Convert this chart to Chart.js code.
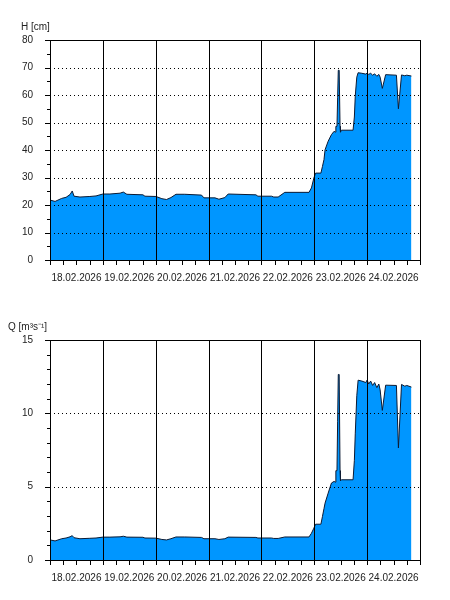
<!DOCTYPE html>
<html>
<head>
<meta charset="utf-8">
<script src="https://cdn.jsdelivr.net/npm/chart.js@4.4.1/dist/chart.umd.min.js"></script>
<style>
    body { margin: 0; background: #fff; }
    .box { width: 450px; height: 300px; }
</style>
</head>
<body>
<div class="box"><canvas id="levelChart" width="450" height="300"></canvas></div>
<div class="box"><canvas id="flowChart" width="450" height="300"></canvas></div>
<script>
// Hours since 18.02.2026 00:00 (shared by both series)
const hours = [
    0, 2.3, 5.3, 7.3, 9.1, 10.1, 10.9, 13.6, 18.1, 20.9,
    24, 27.2, 31.8, 33.3, 34.9, 42.2, 43.1, 48.1, 50.8, 52.9,
    54.9, 57.2, 61.2, 68.8, 69.9, 74.9, 76.7, 79.4, 80.9, 93.5,
    94.4, 100.6, 101.6, 103.6, 106.6, 117.6, 118.7, 119.8, 120.6, 123.0,
    123.7, 124.4, 124.9, 126.3, 127.8, 129.0, 129.5, 129.8, 130.3, 130.6,
    130.9, 131.3, 131.7, 131.9, 132.3, 137.6, 138.2, 138.6, 139.3, 139.9,
    141.6, 143.4, 144.0, 144.7, 145.6, 146.5, 147.4, 148.4, 149.3, 149.9,
    150.9, 152.4, 157.3, 158.2, 159.6, 161.1, 162.0, 164.1
];

// Water level H [cm]
const levelValues = [
    21.8, 21.3, 22.4, 22.8, 23.8, 25.1, 23.2, 22.9, 23.1, 23.3,
    24.0, 24.0, 24.3, 24.7, 23.9, 23.7, 23.2, 23.1, 22.3, 22.0,
    22.7, 23.9, 23.9, 23.6, 22.6, 22.6, 22.1, 22.7, 24.0, 23.7,
    23.2, 23.2, 22.9, 22.9, 24.6, 24.6, 26.2, 29.8, 31.6, 31.6,
    34.0, 36.5, 40.1, 43.2, 45.6, 46.8, 46.5, 48.6, 48.6, 59.0,
    69.0, 69.0, 48.6, 46.5, 47.2, 47.2, 52.0, 59.6, 66.5, 68.1,
    67.9, 67.6, 68.0, 67.5, 67.9, 67.2, 67.7, 66.8, 67.5, 66.5,
    62.4, 67.4, 67.2, 55.0, 67.3, 67.0, 67.2, 66.9
];

// Discharge Q [m3/s]
const flowValues = [
    1.37, 1.30, 1.45, 1.50, 1.58, 1.66, 1.52, 1.45, 1.48, 1.50,
    1.56, 1.56, 1.58, 1.62, 1.56, 1.55, 1.50, 1.49, 1.40, 1.37,
    1.45, 1.57, 1.57, 1.54, 1.45, 1.45, 1.40, 1.45, 1.56, 1.54,
    1.50, 1.50, 1.47, 1.47, 1.57, 1.57, 1.82, 2.17, 2.44, 2.44,
    2.96, 3.50, 3.88, 4.56, 5.25, 5.36, 5.31, 6.09, 6.09, 9.46,
    12.65, 12.65, 6.09, 5.40, 5.47, 5.47, 6.80, 8.60, 11.20, 12.26,
    12.20, 12.10, 12.27, 12.00, 12.20, 11.90, 12.10, 11.75, 12.00, 11.60,
    10.20, 11.92, 11.90, 7.64, 11.97, 11.85, 11.90, 11.79
];

const dayLabels = ['18.02.2026', '19.02.2026', '20.02.2026', '21.02.2026', '22.02.2026', '23.02.2026', '24.02.2026'];

const FILL = 'rgb(0, 150, 255)';
const FONT = { family: '"Liberation Sans", Arial, sans-serif', size: 10 };

// frame, day lines, dotted grid, tick marks and the axis caption
const framePlugin = {
    id: 'frame',
    afterDatasetsDraw(chart, args, opts) {
        const { ctx, chartArea: a, scales: { x, y } } = chart;
        ctx.save();
        ctx.strokeStyle = '#000';
        ctx.lineWidth = 1;

        // dotted horizontal lines
        ctx.setLineDash([1, 3]);
        for (let v = opts.gridStep; v < y.max; v += opts.gridStep) {
            const py = Math.round(y.getPixelForValue(v)) + 0.5;
            ctx.beginPath();
            ctx.moveTo(a.left + 4, py);
            ctx.lineTo(a.right, py);
            ctx.stroke();
        }
        ctx.setLineDash([]);

        // day lines
        for (let h = 24; h < x.max; h += 24) {
            const px = Math.round(x.getPixelForValue(h)) + 0.5;
            ctx.beginPath();
            ctx.moveTo(px, a.top);
            ctx.lineTo(px, a.bottom);
            ctx.stroke();
        }

        // x ticks every 6 hours
        for (let h = 0; h <= x.max; h += 6) {
            const px = Math.round(x.getPixelForValue(h)) + 0.5;
            ctx.beginPath();
            ctx.moveTo(px, a.bottom);
            ctx.lineTo(px, a.bottom + 5);
            ctx.stroke();
        }

        // y ticks
        for (let v = 0; v <= y.max + 1e-9; v += opts.minorStep) {
            const py = Math.round(y.getPixelForValue(v)) + 0.5;
            const major = Math.abs(v % opts.gridStep) < 1e-9;
            ctx.beginPath();
            ctx.moveTo(a.left - (major ? 5 : 3), py);
            ctx.lineTo(a.left, py);
            ctx.stroke();
        }

        // plot frame
        ctx.strokeRect(Math.round(a.left) + 0.5, Math.round(a.top) + 0.5,
            Math.round(a.right - a.left), Math.round(a.bottom - a.top));

        // caption
        ctx.fillStyle = '#222';
        ctx.font = `${FONT.size}px ${FONT.family}`;
        ctx.textBaseline = 'alphabetic';
        ctx.fillText(opts.title, opts.titleX, 30);
        ctx.restore();
    }
};

function createSeriesChart(canvas, values, yMax, gridStep, minorStep, title, titleX) {
    const points = hours.map((h, i) => ({ x: h, y: values[i] }));

    return new Chart(canvas, {
        type: 'line',
        data: {
            datasets: [{
                data: points,
                borderColor: '#0b1a33',
                borderWidth: 1,
                backgroundColor: FILL,
                fill: 'origin',
                pointRadius: 0,
                tension: 0
            }]
        },
        options: {
            responsive: false,
            animation: false,
            layout: { padding: { left: 0, right: 30, top: 40, bottom: 0 } },
            plugins: {
                legend: { display: false },
                tooltip: { enabled: false },
                frame: { gridStep, minorStep, title, titleX }
            },
            scales: {
                x: {
                    type: 'linear',
                    min: 0,
                    max: 168,
                    grid: { display: false },
                    border: { display: false },
                    afterFit: (scale) => { scale.height = 40; },
                    ticks: {
                        stepSize: 12,
                        autoSkip: false,
                        maxRotation: 0,
                        padding: 4,
                        color: '#222',
                        font: FONT,
                        callback: (v) => (v % 24 === 12 ? dayLabels[(v - 12) / 24] : '')
                    }
                },
                y: {
                    min: 0,
                    max: yMax,
                    grid: { display: false },
                    border: { display: false },
                    afterFit: (scale) => { scale.width = 50; },
                    ticks: {
                        stepSize: gridStep,
                        padding: 9,
                        color: '#222',
                        font: FONT
                    }
                }
            }
        },
        plugins: [framePlugin]
    });
}

createSeriesChart(document.getElementById('levelChart'), levelValues, 80, 10, 5, 'H [cm]', 21);
createSeriesChart(document.getElementById('flowChart'), flowValues, 15, 5, 1, 'Q [m³s⁻¹]', 8);
</script>
</body>
</html>
